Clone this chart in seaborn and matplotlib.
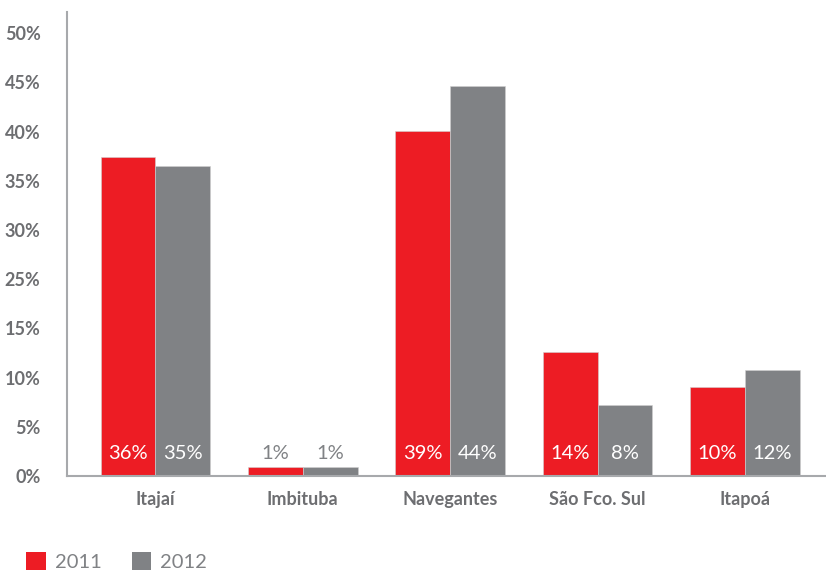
import matplotlib
matplotlib.use("Agg")
import matplotlib.pyplot as plt
import numpy as np
import pandas as pd
import seaborn as sns
from matplotlib.patches import Patch

categories = ["Itajaí", "Imbituba", "Navegantes", "São Fco. Sul", "Itapoá"]
values_2011 = [36, 1, 39, 14, 10]
values_2012 = [35, 1, 44, 8, 12]
years = ["2011", "2012"]
ytick_labels = ["0%", "5%", "10%", "15%", "25%", "30%", "35%", "40%", "45%", "50%"]

RED = "#ED1C24"
GREY = "#808285"
TEXT = "#6D6E71"
AXIS = "#A7A9AC"

df = pd.DataFrame({
    "porto": categories * 2,
    "ano": [years[0]] * len(categories) + [years[1]] * len(categories),
    "valor": values_2011 + values_2012,
})

sns.set_theme(style="white")
plt.rcParams["font.family"] = ["Lato", "DejaVu Sans"]

fig = plt.figure(figsize=(8.26, 5.72), dpi=100)
ax = fig.add_axes([0.0811, 0.1678, 0.9189, 0.8112])

sns.barplot(data=df, x="porto", y="valor", hue="ano", palette=[RED, GREY],
            width=0.745, gap=0, saturation=1, ax=ax, legend=False,
            edgecolor="#d0d0d0", linewidth=0.4)

ax.set_xlim(-0.6, 4.55)
ax.set_ylim(0, 52.4)
# evenly spaced ticks spanning 0-50
ax.set_yticks(np.linspace(0, 50, len(ytick_labels)))
ax.set_yticklabels(ytick_labels)
ax.set_xlabel("")
ax.set_ylabel("")

for s in ["top", "right"]:
    ax.spines[s].set_visible(False)
for s in ["left", "bottom"]:
    ax.spines[s].set_color(AXIS)
    ax.spines[s].set_linewidth(1.5)

ax.tick_params(axis="y", length=0, pad=19, labelsize=13, labelcolor=TEXT)
ax.tick_params(axis="x", length=0, pad=11, labelsize=13, labelcolor=TEXT)
for lab in ax.get_yticklabels() + ax.get_xticklabels():
    lab.set_fontweight("bold")

# value labels near the base of each bar
for container in ax.containers:
    for bar in container:
        h = bar.get_height()
        cx = bar.get_x() + bar.get_width() / 2
        color = "white" if h > 4 else GREY
        ax.text(cx, 2.5, f"{h:.0f}%", ha="center", va="center",
                fontsize=14.5, fontweight="normal", color=color)

handles = [Patch(facecolor=RED, edgecolor="none"), Patch(facecolor=GREY, edgecolor="none")]
fig.legend(handles, years, loc="lower left", bbox_to_anchor=(0.01, -0.03),
           ncol=2, frameon=False, handlelength=0.95, handleheight=0.95,
           columnspacing=1.5, handletextpad=0.45,
           prop={"family": "Lato", "weight": "normal", "size": 14.5},
           labelcolor=GREY)

fig.savefig("out.png", dpi=100)
